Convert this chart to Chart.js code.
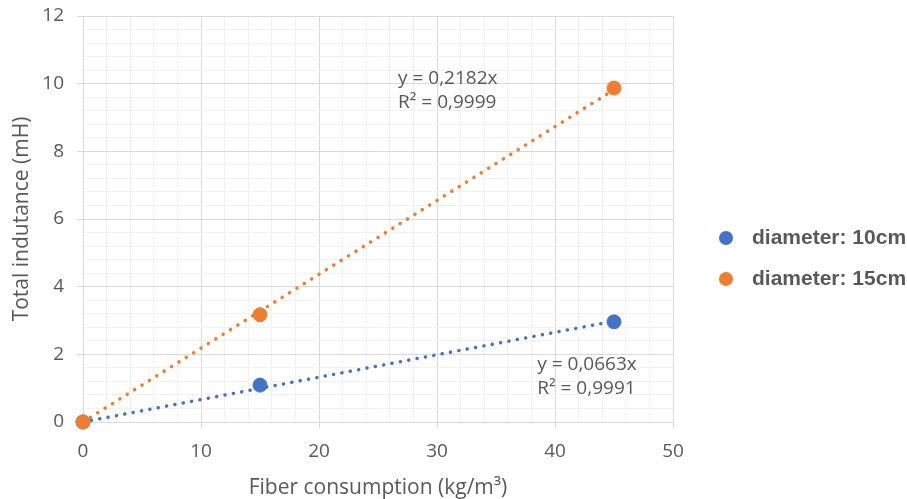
<!DOCTYPE html>
<html>
<head>
<meta charset="utf-8">
<script src="https://cdn.jsdelivr.net/npm/chart.js@4/dist/chart.umd.min.js"></script>
<style>
  html, body { margin: 0; padding: 0; background: #fff; }
  #wrap { width: 907px; height: 499px; }
</style>
</head>
<body>
<div id="wrap"><canvas id="inductChart"></canvas></div>
<script>
// values
const fiber = [0, 15, 45];
const ind10 = [0, 1.09, 2.96];
const ind15 = [0, 3.17, 9.87];
const trendX = [0, 45];
const trend10 = [0, 2.98];
const trend15 = [0, 9.82];
const seriesNames = ['diameter: 10cm', 'diameter: 15cm'];
const eq10 = ['y = 0,0663x', 'R\u00b2 = 0,9991'];
const eq15 = ['y = 0,2182x', 'R\u00b2 = 0,9999'];

const blue = '#4472C4';
const orange = '#ED7D31';
const grey = '#595959';

function pts(xs, ys) {
    return xs.map(function(x, i) { return { x: x, y: ys[i] }; });
}
function isMajor(v, step) {
    var r = v / step;
    return Math.abs(r - Math.round(r)) < 1e-6;
}

// trendline equations + legend drawn on the canvas
const extras = {
    id: 'extras',
    afterDraw: function(chart) {
        var c = chart.ctx, xs = chart.scales.x, ys = chart.scales.y;
        c.save();
        c.fillStyle = grey;
        c.font = '19px "Open Sans"';
        c.textBaseline = 'middle';
        c.textAlign = 'left';
        [[eq15, 26.7, 10.14], [eq10, 38.5, 1.71]].forEach(function(e) {
            var px = xs.getPixelForValue(e[1]);
            var py = ys.getPixelForValue(e[2]);
            c.fillText(e[0][0], px, py);
            c.fillText(e[0][1], px, py + 24);
        });
        var cols = [blue, orange];
        c.font = 'bold 21px "Liberation Sans"';
        seriesNames.forEach(function(name, i) {
            var y = 238 + i * 41;
            c.fillStyle = cols[i];
            c.beginPath();
            c.arc(726, y, 7, 0, Math.PI * 2);
            c.fill();
            c.fillStyle = grey;
            c.fillText(name, 752, y);
        });
        c.restore();
    }
};

const ctx = document.getElementById('inductChart').getContext('2d');
new Chart(ctx, {
    type: 'scatter',
    data: {
        datasets: [
            {
                label: 'trend 10', data: pts(trendX, trend10), showLine: true,
                borderColor: blue, borderWidth: 3.5, borderDash: [0.1, 8.4], borderCapStyle: 'round',
                pointRadius: 0, order: 3, clip: false
            },
            {
                label: 'trend 15', data: pts(trendX, trend15), showLine: true,
                borderColor: orange, borderWidth: 3.5, borderDash: [0.1, 8.6], borderCapStyle: 'round',
                pointRadius: 0, order: 4, clip: false
            },
            {
                label: seriesNames[0], data: pts(fiber, ind10),
                backgroundColor: blue, borderColor: blue, pointRadius: 7, order: 2, clip: false
            },
            {
                label: seriesNames[1], data: pts(fiber, ind15),
                backgroundColor: orange, borderColor: orange, pointRadius: 7, order: 1, clip: false
            }
        ]
    },
    options: {
        responsive: true,
        maintainAspectRatio: false,
        animation: false,
        layout: { padding: { left: 0, right: 234, top: 16, bottom: 0 } },
        plugins: {
            legend: { display: false },
            tooltip: { enabled: false }
        },
        scales: {
            x: {
                type: 'linear', min: 0, max: 50,
                afterFit: function(s) { s.height = 77; },
                ticks: {
                    stepSize: 2, autoSkip: false, maxRotation: 0,
                    color: grey, font: { family: 'Open Sans', size: 19 }, padding: 12,
                    callback: function(v) { return isMajor(v, 10) ? v : ''; }
                },
                grid: {
                    color: function(c) { return isMajor(c.tick.value, 10) ? '#d9d9d9' : '#f2f2f2'; },
                    tickColor: function(c) { return isMajor(c.tick.value, 10) ? '#d9d9d9' : 'rgba(0,0,0,0)'; },
                    tickLength: 6
                },
                border: { color: '#d9d9d9' },
                title: {
                    display: true, text: 'Fiber consumption (kg/m\u00b3)',
                    color: grey, font: { family: 'Open Sans', size: 21, lineHeight: 1 },
                    padding: { top: 0, bottom: 0 }
                }
            },
            y: {
                type: 'linear', min: 0, max: 12,
                afterFit: function(s) {
                    s.width = 83;
                    s.paddingTop = 0;
                    s.paddingBottom = 0;
                },
                ticks: {
                    stepSize: 0.4, autoSkip: false,
                    color: grey, font: { family: 'Open Sans', size: 19 }, padding: 13,
                    callback: function(v) { return isMajor(v, 2) ? Math.round(v) : ''; }
                },
                grid: {
                    color: function(c) { return isMajor(c.tick.value, 2) ? '#d9d9d9' : '#f2f2f2'; },
                    tickColor: function(c) { return isMajor(c.tick.value, 2) ? '#d9d9d9' : 'rgba(0,0,0,0)'; },
                    tickLength: 6
                },
                border: { color: '#d9d9d9' },
                title: {
                    display: true, text: 'Total indutance (mH)',
                    color: grey, font: { family: 'Open Sans', size: 21 },
                    padding: { top: 9, bottom: 0 }
                }
            }
        }
    },
    plugins: [extras]
});
</script>
</body>
</html>
